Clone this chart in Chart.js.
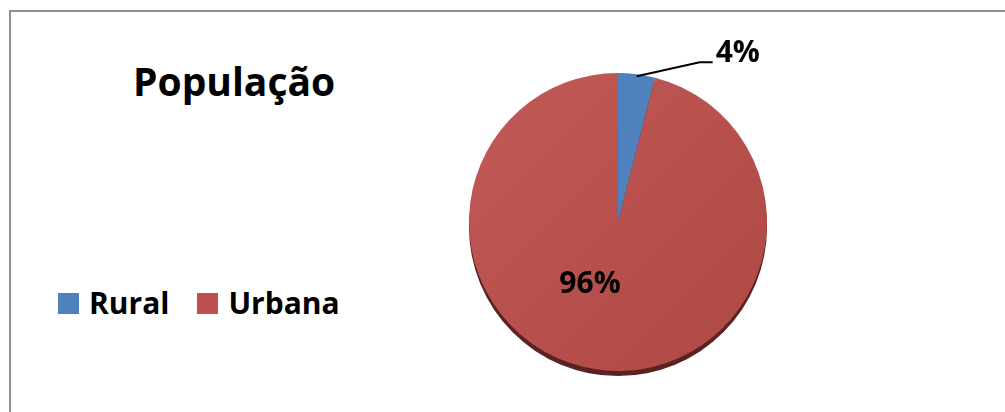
<!DOCTYPE html>
<html>
<head>
<meta charset="utf-8">
<script src="https://cdn.jsdelivr.net/npm/chart.js@4"></script>
<style>
    html, body { margin: 0; padding: 0; background: #fff; }
    #wrap { position: relative; width: 1005px; height: 412px; overflow: hidden; }
    #frame { position: absolute; left: 9px; top: 10px; width: 1010px; height: 420px;
             border-top: 2px solid #8f8f8f; border-left: 2px solid #8f8f8f; }
    #title { position: absolute; left: 133px; top: 54px; line-height: 1; white-space: nowrap;
             font: bold 39px "Open Sans", sans-serif; color: #000; }
    #legend { position: absolute; left: 58px; top: 288px; display: flex; align-items: center;
              font: bold 30px "Open Sans", sans-serif; line-height: 1; color: #000; }
    #legend .item { display: flex; align-items: center; margin-right: 28px; }
    #legend .box { width: 21px; height: 21px; margin-right: 10px; }
    canvas { position: absolute; left: 0; top: 0; }
</style>
</head>
<body>
<div id="wrap">
    <div id="frame"></div>
    <div id="title">População</div>
    <div id="legend"></div>
    <canvas id="chart__population" width="1005" height="412"></canvas>
</div>
<script>
const categories = ['Rural', 'Urbana'];
const values = [4, 96];
const valueLabels = ['4%', '96%'];
const colors = ['#4F81BD', '#C0504D'];

// legenda em html
const legendEl = document.getElementById('legend');
categories.forEach((name, i) => {
    const item = document.createElement('div');
    item.className = 'item';
    const box = document.createElement('span');
    box.className = 'box';
    box.style.background = colors[i];
    const txt = document.createElement('span');
    txt.textContent = name;
    item.appendChild(box);
    item.appendChild(txt);
    legendEl.appendChild(item);
});

function sliceColor (ctx) {
    const area = ctx.chart.chartArea;
    if (!area) return colors[ctx.dataIndex];
    if (ctx.dataIndex === 0) return colors[0];
    const g = ctx.chart.ctx.createLinearGradient(area.left, area.top, area.right, area.bottom);
    g.addColorStop(0, '#C25A57');
    g.addColorStop(1, '#AE4844');
    return g;
}

// sombra 3d por baixo da pizza
const pieShadow = {
    id: 'pieShadow',
    beforeDatasetsDraw (chart) {
        const arc = chart.getDatasetMeta(0).data[0];
        if (!arc) return;
        const c = chart.ctx;
        c.save();
        c.beginPath();
        c.ellipse(arc.x, arc.y + 5, arc.outerRadius, arc.outerRadius, 0, 0, Math.PI * 2);
        c.fillStyle = '#5a2220';
        c.fill();
        c.restore();
    }
};

// rótulos de porcentagem
const sliceLabels = {
    id: 'sliceLabels',
    afterDatasetsDraw (chart) {
        const meta = chart.getDatasetMeta(0);
        const c = chart.ctx;
        c.save();
        c.fillStyle = '#000';
        c.font = 'bold 30px "Open Sans", sans-serif';
        c.textBaseline = 'alphabetic';
        meta.data.forEach((arc, i) => {
            const mid = (arc.startAngle + arc.endAngle) / 2;
            if (values[i] < 10) {
                const r = arc.outerRadius;
                const sx = arc.x + Math.cos(mid) * r;
                const sy = arc.y + Math.sin(mid) * r;
                c.strokeStyle = '#000';
                c.lineWidth = 2;
                c.beginPath();
                c.moveTo(sx, sy + 2);
                c.lineTo(sx + 63, sy - 12);
                c.lineTo(sx + 76, sy - 12);
                c.stroke();
                c.textAlign = 'left';
                c.fillText(valueLabels[i], sx + 79, sy - 12);
            } else {
                c.textAlign = 'center';
                c.fillText(valueLabels[i], arc.x - 28, arc.y + 71);
            }
        });
        c.restore();
    }
};

new Chart(document.getElementById('chart__population'), {
    type: 'pie',
    data: {
        labels: categories,
        datasets: [{
            data: values,
            backgroundColor: sliceColor,
            borderWidth: 0
        }]
    },
    options: {
        responsive: false,
        animation: false,
        layout: { padding: { left: 469, right: 238, top: 73, bottom: 41 } },
        plugins: {
            legend: { display: false },
            title: { display: false },
            tooltip: { enabled: false }
        }
    },
    plugins: [pieShadow, sliceLabels]
});
</script>
</body>
</html>
